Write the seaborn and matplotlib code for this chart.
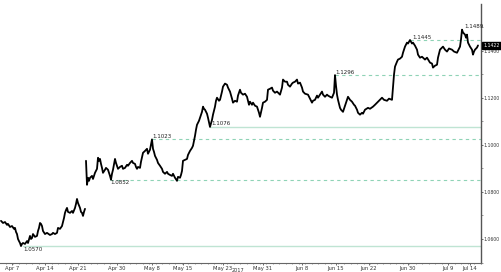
import numpy as np
import pandas as pd
import matplotlib
matplotlib.use("Agg")
import matplotlib.pyplot as plt
import seaborn as sns
from matplotlib.ticker import FixedLocator, NullFormatter

# bar index (position along the trading-time axis) and EURUSD price
seg1_bar = [1, 3, 5, 7, 8, 10, 12, 14, 15, 16, 17, 18, 19, 20, 21, 22, 23, 25, 27, 28,
            30, 31, 32, 33, 35, 37, 38, 39, 40, 41, 42, 43, 45, 47, 50, 52, 53, 55, 57, 58,
            60, 62, 64, 65, 66, 67, 68, 70, 72, 73, 75, 76, 77, 78, 80, 81, 82, 83, 84, 85]
seg1_price = [1.0677, 1.0668, 1.0672, 1.0660, 1.0664, 1.0651, 1.0655, 1.0643, 1.0647, 1.0630,
              1.0621, 1.0600, 1.0591, 1.0583, 1.0570, 1.0579, 1.0583, 1.0579, 1.0591, 1.0583,
              1.0613, 1.0600, 1.0604, 1.0621, 1.0609, 1.0613, 1.0634, 1.0647, 1.0668, 1.0664,
              1.0655, 1.0634, 1.0621, 1.0626, 1.0617, 1.0621, 1.0626, 1.0621, 1.0626, 1.0647,
              1.0643, 1.0655, 1.0689, 1.0711, 1.0723, 1.0732, 1.0715, 1.0711, 1.0719, 1.0711,
              1.0732, 1.0749, 1.0770, 1.0753, 1.0732, 1.0715, 1.0711, 1.0698, 1.0715, 1.0728]

seg2_bar = [86, 87, 88, 89, 90, 92, 93, 95, 97, 98, 99, 100, 101, 102, 103, 105, 106, 108, 110, 111,
            112, 113, 115, 116, 118, 120, 122, 123, 125, 127, 128, 130, 132, 133, 135, 136, 137, 138, 140, 141,
            143, 145, 147, 148, 150, 152, 153, 154, 155, 157, 158, 160, 162, 163, 165, 167, 168, 170, 172, 173,
            175, 177, 178, 180, 181, 182, 183, 185, 187, 188, 190, 192, 193, 194, 195, 196, 197, 199, 200, 202,
            203, 204, 205, 207, 208, 210, 212, 213, 215, 216, 217, 219, 220, 222, 223, 225, 227, 228, 230, 232,
            233, 235, 237, 238, 240, 241, 243, 245, 247, 249, 250, 252, 253, 255, 257, 259, 260, 262, 263, 265,
            267, 268, 270, 272, 273, 275, 277, 280, 282, 283, 285, 287, 288, 290, 292, 293, 295, 297, 298, 300,
            302, 303, 305, 308, 310, 312, 313, 315, 317, 318, 320, 322, 323, 325, 327, 328, 330, 332, 334, 335,
            336, 337, 338, 340, 341, 343, 345, 347, 348, 350, 352, 354, 355, 357, 358, 360, 362, 363, 365, 368,
            370, 373, 375, 378, 380, 382, 384, 387, 389, 392, 393, 394, 395, 397, 398, 400, 402, 403, 405, 407,
            408, 410, 412, 413, 415, 417, 418, 420, 422, 425, 427, 430, 432, 433, 435, 437, 438, 440, 442, 443,
            445, 447, 449, 452, 454, 457, 459, 460, 461, 462, 463, 465, 466, 467, 468, 470, 472, 473, 474, 475,
            477, 478]
seg2_price = [1.0932, 1.0830, 1.0860, 1.0847, 1.0860, 1.0868, 1.0855, 1.0881, 1.0898, 1.0945,
              1.0932, 1.0940, 1.0919, 1.0902, 1.0881, 1.0894, 1.0902, 1.0894, 1.0868, 1.0852,
              1.0877, 1.0894, 1.0940, 1.0923, 1.0898, 1.0906, 1.0911, 1.0898, 1.0902, 1.0915,
              1.0911, 1.0923, 1.0932, 1.0923, 1.0919, 1.0906, 1.0898, 1.0906, 1.0902, 1.0928,
              1.0966, 1.0974, 1.0983, 1.0962, 1.0979, 1.1023, 1.0983, 1.0970, 1.0953, 1.0936,
              1.0923, 1.0911, 1.0898, 1.0885, 1.0877, 1.0885, 1.0877, 1.0872, 1.0868, 1.0877,
              1.0860, 1.0847, 1.0864, 1.0860, 1.0872, 1.0889, 1.0932, 1.0936, 1.0940, 1.0957,
              1.0974, 1.0987, 1.0996, 1.1017, 1.1038, 1.1064, 1.1085, 1.1102, 1.1115, 1.1140,
              1.1162, 1.1153, 1.1149, 1.1132, 1.1115, 1.1076, 1.1106, 1.1128, 1.1162, 1.1187,
              1.1200, 1.1187, 1.1191, 1.1226, 1.1247, 1.1260, 1.1255, 1.1243, 1.1226, 1.1196,
              1.1179, 1.1187, 1.1183, 1.1209, 1.1234, 1.1221, 1.1213, 1.1217, 1.1204, 1.1170,
              1.1183, 1.1170, 1.1179, 1.1166, 1.1162, 1.1136, 1.1119, 1.1157, 1.1179, 1.1183,
              1.1191, 1.1234, 1.1238, 1.1243, 1.1230, 1.1221, 1.1226, 1.1213, 1.1243, 1.1277,
              1.1268, 1.1268, 1.1255, 1.1247, 1.1260, 1.1264, 1.1268, 1.1277, 1.1260, 1.1264,
              1.1243, 1.1226, 1.1217, 1.1213, 1.1196, 1.1179, 1.1187, 1.1191, 1.1209, 1.1200,
              1.1213, 1.1226, 1.1213, 1.1204, 1.1213, 1.1209, 1.1204, 1.1200, 1.1221, 1.1296,
              1.1251, 1.1213, 1.1191, 1.1157, 1.1149, 1.1140, 1.1166, 1.1191, 1.1204, 1.1191,
              1.1183, 1.1170, 1.1166, 1.1149, 1.1136, 1.1128, 1.1136, 1.1132, 1.1149, 1.1157,
              1.1153, 1.1162, 1.1170, 1.1183, 1.1191, 1.1200, 1.1191, 1.1187, 1.1196, 1.1191,
              1.1243, 1.1298, 1.1332, 1.1353, 1.1362, 1.1366, 1.1374, 1.1391, 1.1417, 1.1434,
              1.1430, 1.1445, 1.1430, 1.1434, 1.1421, 1.1404, 1.1383, 1.1370, 1.1374, 1.1362,
              1.1370, 1.1349, 1.1345, 1.1328, 1.1336, 1.1340, 1.1370, 1.1404, 1.1413, 1.1417,
              1.1404, 1.1396, 1.1409, 1.1404, 1.1396, 1.1391, 1.1409, 1.1417, 1.1447, 1.1489,
              1.1477, 1.1468, 1.1455, 1.1468, 1.1434, 1.1417, 1.1404, 1.1383, 1.1396, 1.1404,
              1.1413, 1.1422]

# marked levels: value, start bar, style
level_values = [1.0570, 1.0852, 1.1023, 1.1076, 1.1296, 1.1445]
level_start = [23, 110, 152, 210, 335, 410]
level_dashed = [False, True, True, False, True, True]
label_values = [1.0570, 1.0852, 1.1023, 1.1076, 1.1296, 1.1445, 1.1489]
label_bar = [23, 110, 152, 211, 335, 412, 464]
label_below = [True, True, False, False, False, False, False]
last_price = 1.1422

xtick_pos = [12, 45, 78, 117, 152, 183, 223, 263, 302, 336, 369, 408, 448, 470]
xtick_labels = ["Apr 7", "Apr 14", "Apr 21", "Apr 30", "May 8", "May 15", "May 23",
                "May 31", "Jun 8", "Jun 15", "Jun 22", "Jun 30", "Jul 9", "Jul 14"]
ytick_major = [1.06, 1.08, 1.10, 1.12, 1.14]
ytick_minor = [1.05, 1.07, 1.09, 1.11, 1.13, 1.15, 1.16]
year_label = "2017"

df = pd.DataFrame({
    "bar": seg1_bar + seg2_bar,
    "price": seg1_price + seg2_price,
    "segment": [0] * len(seg1_bar) + [1] * len(seg2_bar),
})

sns.set_style("white")
plt.rcParams["font.family"] = ["DejaVu Sans"]

fig = plt.figure(figsize=(5.01, 2.72), dpi=100)
ax = fig.add_axes([0.0, 1 - 263 / 272, 481 / 501, 259 / 272])

solid_c = "#bfe4d3"
dash_c = "#8fd3b6"
for v, s, d in zip(level_values, level_start, level_dashed):
    if d:
        ax.plot([s, 481], [v, v], color=dash_c, lw=0.8, ls=(0, (3, 3)), zorder=1)
    else:
        ax.plot([s, 481], [v, v], color=solid_c, lw=1.0, zorder=1)

sns.lineplot(data=df, x="bar", y="price", units="segment", estimator=None,
             color="black", lw=1.3, ax=ax, zorder=3)

for v, b, below in zip(label_values, label_bar, label_below):
    ax.text(b, v - 0.0003 if below else v + 0.0002, f"{v:.4f}",
            fontsize=4.0, color="#222222",
            va="top" if below else "bottom", ha="left", zorder=4)

ax.set_xlim(0, 481)
ax.set_ylim(1.0498, 1.1598)
ax.set_xlabel("")
ax.set_ylabel("")

ax.yaxis.tick_right()
ax.yaxis.set_major_locator(FixedLocator(ytick_major))
ax.yaxis.set_minor_locator(FixedLocator(ytick_minor))
ax.set_yticklabels([f"{v:.4f}" for v in ytick_major])
ax.tick_params(axis="y", which="major", right=True, length=1.5, width=0.6,
               color="#555555", labelsize=3.3, labelcolor="#333333", pad=0.5)
ax.tick_params(axis="y", which="minor", right=True, length=1.2, width=0.6, color="#888888")

ax.xaxis.set_major_locator(FixedLocator(xtick_pos))
ax.set_xticklabels(xtick_labels)
ax.xaxis.set_minor_locator(FixedLocator(list(np.arange(6, 481, 6.5))))
ax.xaxis.set_minor_formatter(NullFormatter())
ax.tick_params(axis="x", which="major", bottom=True, length=1.5, width=0.6,
               color="#555555", labelsize=3.8, labelcolor="#333333", pad=0.5)
ax.tick_params(axis="x", which="minor", bottom=True, length=1.0, width=0.5, color="#777777")

for side in ["left", "top"]:
    ax.spines[side].set_visible(False)
ax.spines["right"].set_color("#555555")
ax.spines["right"].set_linewidth(1.0)
ax.spines["bottom"].set_color("#666666")
ax.spines["bottom"].set_linewidth(0.8)

ax.text(1.0 + 2.5 / 481, last_price, f"{last_price:.4f}", transform=ax.get_yaxis_transform(),
        fontsize=3.3, color="white", va="center", ha="left", zorder=6,
        bbox=dict(boxstyle="square,pad=0.25", fc="black", ec="black"), clip_on=False)

fig.text(238 / 501, 1 - 270.5 / 272, year_label, fontsize=3.6, color="#333333",
         ha="center", va="center")

fig.savefig("out.png", dpi=100)
